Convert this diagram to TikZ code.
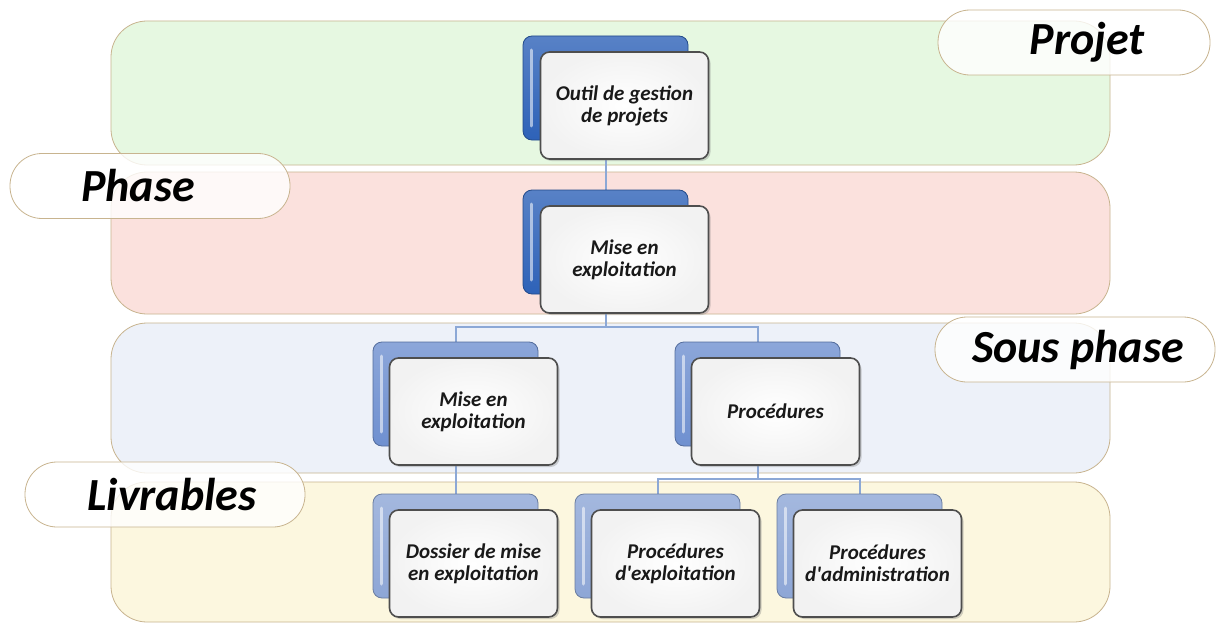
\documentclass[tikz,border=0pt]{standalone}
\usepackage{fontspec}
\setmainfont{Carlito}
\usetikzlibrary{shadows,calc}
\definecolor{bandline}{HTML}{C8B48F}
\definecolor{bandgreen}{HTML}{E6F8E1}
\definecolor{bandred}{HTML}{FBE1DD}
\definecolor{bandblue}{HTML}{EDF1F9}
\definecolor{bandyellow}{HTML}{FCF7DF}
\definecolor{blueA}{HTML}{2E62B8}
\definecolor{blueB}{HTML}{6F90D0}
\definecolor{blueC}{HTML}{8DA6D6}
\definecolor{boxedge}{HTML}{4E4E4E}
\definecolor{connblue}{HTML}{8CA8D6}
\pgfdeclarelayer{bands}
\pgfdeclarelayer{conn}
\pgfsetlayers{bands,conn,main}
\tikzset{
  band/.style={draw=bandline, line width=0.8pt, rounded corners=36pt, minimum width=999pt, inner sep=0pt},
  pill/.style={draw=bandline, line width=0.8pt, fill=white, fill opacity=0.8, text opacity=1,
    rounded corners=32pt, minimum width=280pt, minimum height=65pt, inner sep=0pt,
    font=\fontsize{46}{50}\selectfont\bfseries\itshape},
  backbox/.style={minimum width=165pt, minimum height=104pt, rounded corners=9pt,
    draw=#1!75!black, line width=0.8pt, top color=#1!80!white, bottom color=#1, inner sep=0pt,
    path picture={\draw[white, opacity=0.55, line width=3pt, line cap=round]
      ([xshift=8pt,yshift=-14pt]path picture bounding box.north west) --
      ([xshift=8pt,yshift=14pt]path picture bounding box.south west);}},
  frontbox/.style={minimum width=168pt, minimum height=107pt, rounded corners=9pt,
    draw=boxedge, line width=1.6pt, inner color=white, outer color=gray!10,
    drop shadow={opacity=0.35, shadow xshift=2pt, shadow yshift=-2pt},
    align=center, inner sep=2pt, text=black!90,
    font=\fontsize{21}{22}\selectfont\bfseries\itshape},
  conn/.style={draw=connblue, line width=2pt},
}
\begin{document}
\begin{tikzpicture}[x=1pt,y=-1pt]
\useasboundingbox (0,0) rectangle (1220,623);
\begin{pgfonlayer}{bands}
  \fill[white] (0,0) rectangle (1220,623);
  \node[band, fill=bandgreen, minimum height=144pt] (gband) at (610.5,93) {};
  \node[band, fill=bandred, minimum height=142pt] (rband) at (610.5,243) {};
  \node[band, fill=bandblue, minimum height=150pt] (bband) at (610.5,398) {};
  \node[band, fill=bandyellow, minimum height=140pt] (yband) at (610.5,552) {};
  \node[pill, minimum width=272pt] (pprojet) at (1074,42.5) {\hspace*{26pt}Projet};
  \node[pill] (pphase) at (150,186) {Phase\hspace*{24pt}};
  \node[pill] (psous) at (1075,349.5) {\hspace*{6pt}Sous phase};
  \node[pill] (plivr) at (165,494.5) {\hspace*{14pt}Livrables};
\end{pgfonlayer}

\node[backbox=blueA] (b1) at (605.5,88) {};
\node[frontbox] (f1) at ($(b1.center)+(19,17.5)$) {Outil de gestion\\de projets};
\node[backbox=blueA] (b2) at (605.5,242) {};
\node[frontbox] (f2) at ($(b2.center)+(19,17.5)$) {Mise en\\exploitation};
\node[backbox=blueB] (b3) at (455.5,394) {};
\node[frontbox] (f3) at ($(b3.center)+(18,17.5)$) {Mise en\\exploitation};
\node[backbox=blueB] (b4) at (757.5,394) {};
\node[frontbox] (f4) at ($(b4.center)+(18,17.5)$) {Procédures};
\node[backbox=blueC] (b5) at (455.5,546) {};
\node[frontbox] (f5) at ($(b5.center)+(18,17.5)$) {Dossier de mise\\en exploitation};
\node[backbox=blueC] (b6) at (657.5,546) {};
\node[frontbox] (f6) at ($(b6.center)+(18,17.5)$) {Procédures\\d\textquotesingle exploitation};
\node[backbox=blueC] (b7) at (859.5,546) {};
\node[frontbox] (f7) at ($(b7.center)+(18,17.5)$) {Procédures\\d\textquotesingle administration};

\coordinate (j1) at (605.5,327);
\coordinate (j2) at (757.5,479);
\begin{pgfonlayer}{conn}
  \draw[conn] (b1.center) -- (b2.center);
  \draw[conn] (b2.center) -- (j1) -| (b3.center);
  \draw[conn] (j1) -| (b4.center);
  \draw[conn] (b3.center) -- (b5.center);
  \draw[conn] (b4.center) -- (j2) -| (b6.center);
  \draw[conn] (j2) -| (b7.center);
\end{pgfonlayer}
\end{tikzpicture}
\end{document}
